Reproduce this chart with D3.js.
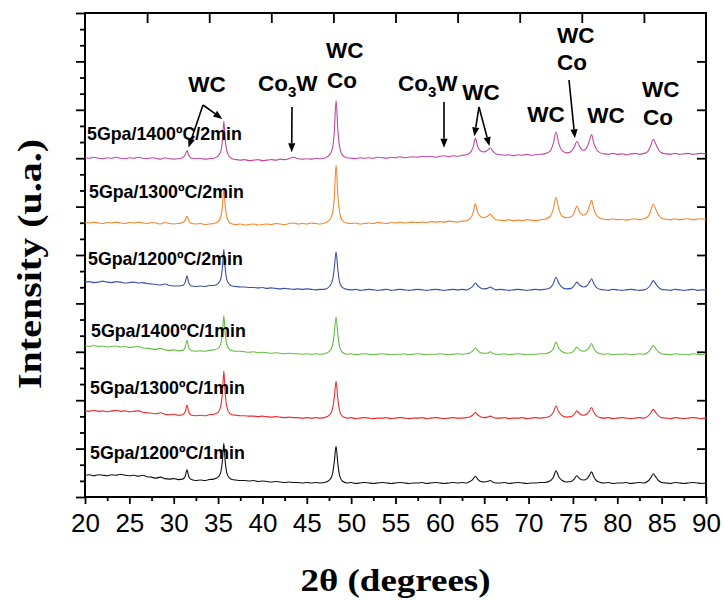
<!DOCTYPE html>
<html><head><meta charset="utf-8">
<script src="https://cdn.jsdelivr.net/npm/d3@7"></script>
<style>body{margin:0;background:#fff} svg{display:block}</style>
</head><body>
<svg id="chart" width="724" height="600"></svg>
<script>
// 2θ sampling positions shared by every pattern
const angles = [
  20,20.5,21,21.5,22,22.5,23,23.5,24,24.5,25,25.5,26,26.5,27,27.5,28,28.5,29,29.5,30,30.5,
  31.0,31.3,31.5,31.7,32.0,
  32.5,33,33.5,34,34.5,
  35.0,35.3,35.5,35.65,35.8,36.0,36.3,
  36.6,37,37.5,38,38.5,39,39.5,40,40.5,41,41.5,42,42.5,43,43.5,44,44.5,45,45.5,46,46.5,47,
  47.6,47.9,48.1,48.3,48.5,48.7,49.0,
  49.5,50,50.5,51,51.5,52,52.5,53,53.5,54,54.5,55,55.5,56,56.5,57,57.5,58,58.5,59,59.5,60,60.5,61,61.5,62,62.5,63,
  63.4,63.75,64.0,64.25,64.6,65.0,65.35,65.7,65.95,66.3,
  66.8,67.3,67.8,68.3,68.8,69.3,69.8,70.3,70.8,71.3,71.8,
  72.4,72.8,73.1,73.4,73.8,74.3,74.8,75.15,75.45,75.75,76.2,76.6,76.9,77.1,77.35,77.7,78.1,
  78.5,79,79.5,80,80.5,81,81.5,82,82.5,83,
  83.4,83.75,84.05,84.35,84.7,85.0,
  85.5,86,86.5,87,87.5,88,88.5,89,89.5,90
];

// Intensity profiles (arbitrary units, relative to each pattern's baseline)
const i1400_2min = [
  -8,-9,-7,-9,-10,-8,-9,-7,-9,-10,-8,-9,-7,-9,-10,-8,-9,-11,-8,-10,-11,-10,
  -8,-2,7,-3,-9,
  -10,-9,-11,-10,-9,
  -4,5,30,68,30,5,-6,
  -10,-12,-13,-12,-14,-13,-12,-14,-13,-12,-13,-11,-12,-10,-7,-10,-11,-10,-11,-9,-10,-9,
  -1,12,45,110,50,15,-2,
  -8,-9,-10,-8,-9,-8,-9,-7,-8,-9,-7,-8,-6,-8,-7,-6,-7,-5,-6,-5,-7,-5,-4,-6,-4,-5,-3,-2,
  2,14,32,16,6,4,7,12,6,0,
  -2,-3,-2,-4,-2,-3,-1,-3,-2,-1,0,
  5,22,45,22,6,2,5,14,26,15,7,14,30,40,22,8,2,
  0,-1,1,-1,0,-2,0,1,-1,1,
  4,16,30,20,7,2,
  0,-1,1,-1,0,1,-1,0,1,0
];
const i1300_2min = [
  -7,-8,-6,-8,-9,-7,-8,-6,-8,-9,-7,-8,-6,-8,-9,-7,-8,-10,-7,-9,-10,-9,
  -7,-2,6,-3,-9,
  -10,-9,-11,-10,-9,
  -5,4,28,64,28,4,-7,
  -10,-11,-10,-12,-11,-10,-12,-11,-10,-11,-9,-10,-11,-9,-8,-10,-9,-10,-8,-9,-10,-8,
  -1,12,45,112,50,15,-3,
  -8,-9,-8,-10,-9,-8,-9,-7,-8,-9,-7,-8,-6,-8,-7,-6,-7,-6,-7,-5,-6,-5,-6,-4,-5,-6,-4,-3,
  1,13,32,15,5,3,6,10,5,-1,
  -2,-3,-1,-3,-2,-3,-1,-2,-3,-1,0,
  5,22,45,22,6,3,5,14,27,15,8,14,29,39,21,7,2,
  0,-1,1,-1,0,-2,0,1,-1,1,
  4,16,31,20,7,2,
  0,-1,1,-1,0,1,-1,0,1,0
];
const i1200_2min = [
  16,17,15,16,18,16,15,17,16,14,15,16,14,15,13,12,11,10,12,9,8,8,
  9,16,29,14,8,
  7,8,7,9,9,
  13,22,48,84,45,20,11,
  8,7,6,6,5,5,4,5,3,4,3,2,3,2,1,2,1,2,1,0,1,1,
  8,20,45,78,42,16,5,
  1,0,1,-1,0,1,0,-1,0,1,-1,0,1,0,-1,0,1,0,-1,0,1,0,-1,0,1,0,1,0,
  3,8,14,9,4,2,3,6,3,0,
  1,0,-1,0,1,0,-1,0,1,0,1,
  4,13,26,14,5,2,3,9,16,10,6,9,17,23,13,4,1,
  0,-1,1,0,-1,0,1,0,-1,0,
  3,10,19,12,4,1,
  0,-1,1,0,-1,0,1,-1,0,0
];
const i1400_1min = [
  17,16,18,16,17,15,16,17,15,16,14,15,16,13,12,11,10,12,9,8,9,7,
  8,15,29,13,7,
  6,7,6,8,9,
  12,21,46,80,44,19,10,
  7,6,6,5,4,5,3,4,3,2,3,2,1,2,1,1,0,1,0,1,0,1,
  7,19,44,77,41,15,4,
  0,1,-1,0,1,0,-1,0,1,0,-1,0,0,1,-1,0,1,0,-1,0,0,1,0,-1,0,1,0,1,
  3,8,13,8,3,2,2,5,2,0,
  0,1,-1,0,1,0,-1,0,0,1,1,
  4,12,25,13,5,2,3,8,15,9,6,9,16,22,12,4,1,
  0,1,-1,0,0,1,-1,0,1,0,
  3,10,18,11,4,1,
  0,-1,1,0,0,-1,1,0,-1,0
];
const i1300_1min = [
  15,14,16,14,15,13,15,16,14,15,13,14,15,12,11,10,9,11,8,7,8,6,
  7,13,27,12,6,
  5,6,5,7,8,
  12,24,55,97,52,22,10,
  7,6,5,5,4,4,3,4,3,2,3,2,1,2,1,1,0,1,0,1,0,1,
  7,19,43,76,40,15,4,
  0,1,-1,0,1,0,-1,0,0,1,-1,0,1,0,-1,0,0,1,-1,0,1,0,-1,0,1,0,0,1,
  3,7,12,7,3,1,2,4,2,0,
  0,1,-1,0,0,1,-1,0,1,0,1,
  4,12,25,13,5,2,3,8,15,9,6,9,16,22,12,4,1,
  0,1,-1,0,1,0,-1,0,1,0,
  3,10,18,11,4,1,
  0,-1,1,0,-1,0,1,0,-1,0
];
const i1200_1min = [
  16,17,15,17,16,15,17,16,18,16,15,16,14,16,13,12,10,12,9,8,9,7,
  8,14,27,13,7,
  5,6,5,7,8,
  12,22,48,82,45,20,10,
  7,6,5,5,4,5,3,4,3,2,3,2,1,2,1,1,0,1,0,1,0,1,
  7,19,43,76,40,15,4,
  0,1,-1,0,1,0,-1,0,1,0,-1,0,1,0,-1,0,0,1,-1,0,1,0,-1,0,1,0,1,0,
  3,8,14,8,3,2,3,5,2,0,
  0,1,-1,0,1,0,-1,0,0,1,1,
  4,12,25,13,5,2,3,8,15,9,6,9,17,23,13,4,1,
  0,1,-1,0,0,1,-1,0,1,0,
  3,10,19,12,4,1,
  0,-1,1,0,-1,0,1,0,-1,0
];

const seriesNames = ["5Gpa/1400ºC/2min","5Gpa/1300ºC/2min","5Gpa/1200ºC/2min",
                     "5Gpa/1400ºC/1min","5Gpa/1300ºC/1min","5Gpa/1200ºC/1min"];
const seriesValues = [i1400_2min, i1300_2min, i1200_2min, i1400_1min, i1300_1min, i1200_1min];
// vertical stacking offset of each pattern (same units as the profiles)
const seriesOffsets = [709, 574, 428, 295, 163, 29];
const seriesColors = ["#c4479f", "#f5862c", "#3c50a6", "#66bd42", "#ee2b2e", "#111111"];

const xTickValues = [20,25,30,35,40,45,50,55,60,65,70,75,80,85,90];

// ---- layout ----
const svg = d3.select("#chart");
const L = 85, R = 706, T = 13, B = 497;
const x = d3.scaleLinear().domain([20, 90]).range([L, R]);
const y = d3.scaleLinear().domain([0, 1000]).range([B, T]);

const axisStyle = g => {
  g.select(".domain").remove();
  g.selectAll(".tick line").attr("stroke", "#000").attr("stroke-width", 1.8);
};

// bottom axis: labelled majors + minors
svg.append("g").attr("transform", `translate(0,${B})`)
  .call(d3.axisBottom(x).tickValues(xTickValues).tickSize(7).tickPadding(10).tickFormat(d3.format("d")))
  .call(axisStyle)
  .call(g => g.selectAll("text").attr("font-family", "'Liberation Sans', Arial, sans-serif")
    .attr("font-size", 26).attr("fill", "#000"));
svg.append("g").attr("transform", `translate(0,${B})`)
  .call(d3.axisBottom(x).tickValues(xTickValues.slice(0, -1).map(v => v + 2.5)).tickSize(4).tickFormat(""))
  .call(axisStyle);

// left axis: outward majors and minors, no labels
svg.append("g").attr("transform", `translate(${L},0)`)
  .call(d3.axisLeft(y).tickValues(d3.range(0, 1001, 100)).tickSize(9).tickFormat(""))
  .call(axisStyle);
svg.append("g").attr("transform", `translate(${L},0)`)
  .call(d3.axisLeft(y).tickValues(d3.range(0, 1000, 100).flatMap(v => [v + 100 / 3, v + 200 / 3])).tickSize(5).tickFormat(""))
  .call(axisStyle);

// right axis: inward ticks
svg.append("g").attr("transform", `translate(${R},0)`)
  .call(d3.axisRight(y).tickValues(d3.range(100, 1000, 100)).tickSize(-9).tickFormat(""))
  .call(axisStyle);

// top axis: ten equal divisions, inward ticks
const xTop = d3.scaleLinear().domain([0, 10]).range([L, R]);
svg.append("g").attr("transform", `translate(0,${T})`)
  .call(d3.axisTop(xTop).tickValues(d3.range(1, 10)).tickSize(-10).tickFormat(""))
  .call(axisStyle);

// frame
svg.append("rect").attr("x", L).attr("y", T).attr("width", R - L).attr("height", B - T)
  .attr("fill", "none").attr("stroke", "#000").attr("stroke-width", 2);

// patterns
const line = d3.line().curve(d3.curveMonotoneX);
seriesValues.forEach((vals, s) => {
  const pts = angles.map((a, i) => [x(a), y(seriesOffsets[s] + vals[i])]);
  svg.append("path").attr("d", line(pts)).attr("fill", "none")
    .attr("stroke", seriesColors[s]).attr("stroke-width", 1.1).attr("stroke-linejoin", "round");
});

// pattern labels
const labelX = [87, 89, 88, 91, 90, 90];
const labelY = [140, 198, 265, 337, 394, 459];
svg.append("g").selectAll("text").data(seriesNames).join("text")
  .attr("x", (d, i) => labelX[i]).attr("y", (d, i) => labelY[i])
  .attr("font-family", "'Liberation Sans', Arial, sans-serif").attr("font-weight", "bold")
  .attr("font-size", 17.8).attr("fill", "#000").text(d => d);

// phase annotations over the top pattern
const annFont = "'Liberation Sans', Arial, sans-serif";
const ann = svg.append("g").attr("font-family", annFont).attr("font-weight", "bold")
  .attr("font-size", 22.5).attr("fill", "#000");
const label = (txt, px, py, anchor) => ann.append("text").attr("x", px).attr("y", py)
  .attr("text-anchor", anchor || "start").text(txt);
const labelCo3W = (px, py) => {
  const t = ann.append("text").attr("x", px).attr("y", py);
  t.append("tspan").text("Co");
  t.append("tspan").attr("font-size", 15).attr("dy", 6).text("3");
  t.append("tspan").attr("dy", -6).text("W");
};
label("WC", 207, 92, "middle");
labelCo3W(258, 91);
label("WC", 326, 58); label("Co", 327, 88);
labelCo3W(398, 91);
label("WC", 481, 100, "middle");
label("WC", 546, 122, "middle");
label("WC", 557, 43); label("Co", 557, 70);
label("WC", 606, 123, "middle");
label("WC", 642, 97); label("Co", 643, 125);

// arrows pointing at peaks of the top pattern
const topVal = a => {
  let k = 0;
  angles.forEach((v, i) => { if (Math.abs(v - a) < Math.abs(angles[k] - a)) k = i; });
  return y(seriesOffsets[0] + i1400_2min[k]);
};
const arrows = [
  { from: [203, 105], angle: 31.5, dx: 1.5, gap: 3 },
  { from: [203, 105], angle: 35.65, dx: -1.5, gap: 2 },
  { from: [292, 107], angle: 43.3, dx: 0, gap: 5 },
  { from: [444, 102], angle: 60.47, dx: 0, gap: 8 },
  { from: [479, 107], angle: 64.0, dx: -1, gap: 2 },
  { from: [479, 107], angle: 65.7, dx: -1, gap: 2 },
  { from: [569, 80], angle: 75.45, dx: -2, gap: 3 }
];
arrows.forEach(a => {
  const x1 = a.from[0], y1 = a.from[1];
  const x2 = x(a.angle) + a.dx, y2 = topVal(a.angle) - a.gap;
  const ang = Math.atan2(y2 - y1, x2 - x1);
  const hl = 9, hw = 3.6;
  const bx = x2 - hl * Math.cos(ang), by = y2 - hl * Math.sin(ang);
  ann.append("line").attr("x1", x1).attr("y1", y1).attr("x2", bx).attr("y2", by)
    .attr("stroke", "#000").attr("stroke-width", 1.6);
  ann.append("path")
    .attr("d", `M${x2},${y2}L${bx - hw * Math.sin(ang)},${by + hw * Math.cos(ang)}L${bx + hw * Math.sin(ang)},${by - hw * Math.cos(ang)}Z`)
    .attr("fill", "#000");
});

// axis titles
svg.append("text").attr("x", (L + R) / 2).attr("y", 591).attr("text-anchor", "middle")
  .attr("font-family", "'Liberation Serif', 'Times New Roman', serif").attr("font-weight", "bold")
  .attr("font-size", 31).attr("textLength", 190).attr("lengthAdjust", "spacingAndGlyphs")
  .text("2θ (degrees)");
svg.append("text").attr("transform", "translate(41,264) rotate(-90)").attr("text-anchor", "middle")
  .attr("font-family", "'Liberation Serif', 'Times New Roman', serif").attr("font-weight", "bold")
  .attr("font-size", 33).attr("textLength", 250).attr("lengthAdjust", "spacingAndGlyphs")
  .text("Intensity (u.a.)");
</script>
</body></html>
